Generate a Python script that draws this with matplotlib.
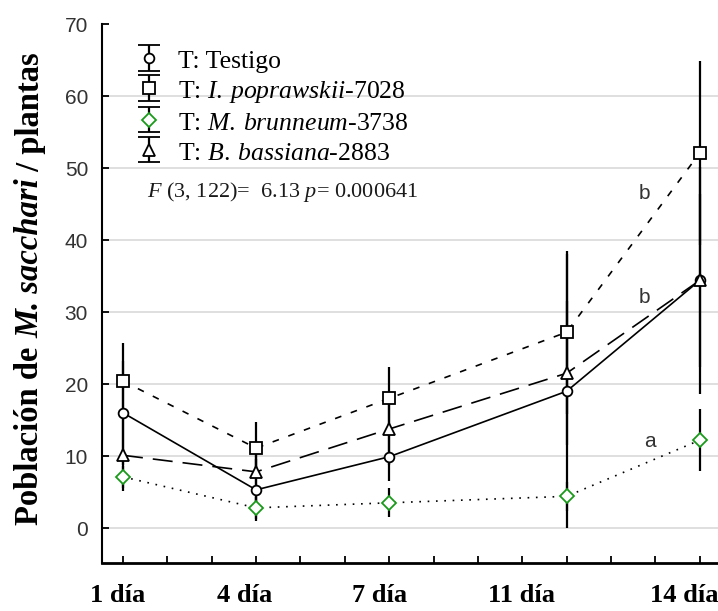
import numpy as np
import matplotlib.pyplot as plt
from matplotlib import transforms

plt.rcParams['mathtext.fontset'] = 'custom'
plt.rcParams['mathtext.rm'] = 'Liberation Serif'
plt.rcParams['mathtext.it'] = 'Liberation Serif:italic'

days = [1, 4, 7, 11, 14]
day_labels = ['1 día', '4 día', '7 día', '11 día', '14 día']
label_pos = [0.87, 3.75, 6.79, 9.99, 13.66]

testigo = [16.0, 5.3, 9.9, 19.0, 34.4]
testigo_err = [7.2, 4.3, 3.4, 19.0, 15.8]
poprawskii = [20.4, 11.1, 18.0, 27.2, 52.1]
poprawskii_err = [5.3, 3.6, 4.4, 11.3, 12.8]
brunneum = [7.1, 2.8, 3.5, 4.4, 12.2]
brunneum_err = [1.5, 1.5, 2.0, 2.0, 4.3]
bassiana = [10.1, 7.8, 13.75, 21.5, 34.4]
bassiana_err = [5.0, 4.0, 5.0, 10.0, 12.0]

letters = ['b', 'b', 'a']
letter_x = [12.76, 12.76, 12.87]
letter_y = [46.4, 32.0, 12.0]

series = [
    ('T: Testigo', testigo, testigo_err, 'o', 7, 'black', '-'),
    (r'T: $\mathit{I.\:poprawskii}$-7028', poprawskii, poprawskii_err, 's', 8, 'black', (0, (4, 6))),
    (r'T: $\mathit{M.\:brunneum}$-3738', brunneum, brunneum_err, 'D', 7, '#1a9a1a', (0, (1, 4))),
    (r'T: $\mathit{B.\:bassiana}$-2883', bassiana, bassiana_err, '^', 8, 'black', (0, (12, 6))),
]

fig = plt.figure(figsize=(7.18, 6.11), dpi=100)
ax = fig.add_axes([102 / 718, 48 / 611, 616 / 718, 539 / 611])

ax.set_xlim(0.527, 14.41)
ax.set_ylim(-4.86, 70)

ax.hlines(np.arange(0, 61, 10), 0.527, 14.41, color='#d9d9d9', lw=1.2, zorder=0)

handles = []
for label, vals, err, mk, ms, ec, ls in series:
    ax.errorbar(days, vals, yerr=err, fmt='none', ecolor='black', elinewidth=1.6, capsize=0, zorder=2)
    ax.plot(days, vals, color='black', lw=1.2, ls=ls, zorder=3)
    ax.plot(days, vals, ls='none', marker=mk, ms=ms, mfc='white', mec=ec, mew=1.3, zorder=4)
    h = ax.errorbar([np.nan], [np.nan], yerr=[1], fmt=mk, ms=ms, mfc='white', mec=ec, mew=1.3,
                    ecolor='black', elinewidth=1.6, capsize=8, capthick=1.6, label=label)
    handles.append(h)

leg = ax.legend(handles=handles, loc='upper left', bbox_to_anchor=(0.035, 0.98), frameon=False,
                prop={'family': 'Liberation Serif', 'size': 18.5}, labelspacing=0.18,
                handlelength=1.0, handletextpad=0.6, handleheight=1.0, borderpad=0)

ax.text(1.54, 46.7, r'$\mathit{F}$ (3, 122)=  6.13 $\mathit{p}$= 0.000641', family='Liberation Serif',
        fontsize=16, color='#1a1a1a', ha='left', va='center')

for t, x, y in zip(letters, letter_x, letter_y):
    ax.text(x, y, t, fontsize=15, family='Liberation Sans', color='#333333', ha='center', va='center')

for side in ['top', 'right']:
    ax.spines[side].set_visible(False)
ax.spines['left'].set_linewidth(1.5)
ax.spines['bottom'].set_linewidth(2)

ax.set_yticks(np.arange(0, 71, 10))
ax.set_xticks(np.arange(1, 15))
ax.set_xticklabels([])
ax.tick_params(axis='x', direction='in', length=5, width=1.3)
ax.tick_params(axis='y', direction='in', length=5, width=1.3, pad=10, labelsize=15, labelcolor='#333333')
for lab in ax.get_yticklabels():
    lab.set_family('Liberation Sans')

tr = transforms.blended_transform_factory(ax.transData, fig.transFigure)
for t, x in zip(day_labels, label_pos):
    ax.text(x, 0.026, t, transform=tr, ha='center', va='center', fontsize=19,
            family='Liberation Serif', weight='bold', clip_on=False)

# y label built from pieces (bold / bold italic / bold)
t1 = fig.text(30 / 718, 86 / 611, 'Población de ', rotation=90, ha='center', va='bottom',
              fontsize=23.5, family='Liberation Serif', weight='bold')
t2 = fig.text(0, 0, 'M. sacchari', rotation=90, ha='center', va='bottom', fontsize=23.5,
              family='Liberation Serif', weight='bold', style='italic')
t3 = fig.text(0, 0, ' / plantas', rotation=90, ha='center', va='bottom', fontsize=23.5,
              family='Liberation Serif', weight='bold')
fig.canvas.draw()
r = fig.canvas.get_renderer()
inv = fig.transFigure.inverted()
bb1 = t1.get_window_extent(r)
x0, y0 = inv.transform((bb1.x0 + bb1.width / 2, bb1.y1))
t2.set_position((x0, y0))
bb2 = t2.get_window_extent(r)
x0, y0 = inv.transform((bb1.x0 + bb1.width / 2, bb2.y1))
t3.set_position((x0, y0))

fig.savefig('out.png', dpi=100)
